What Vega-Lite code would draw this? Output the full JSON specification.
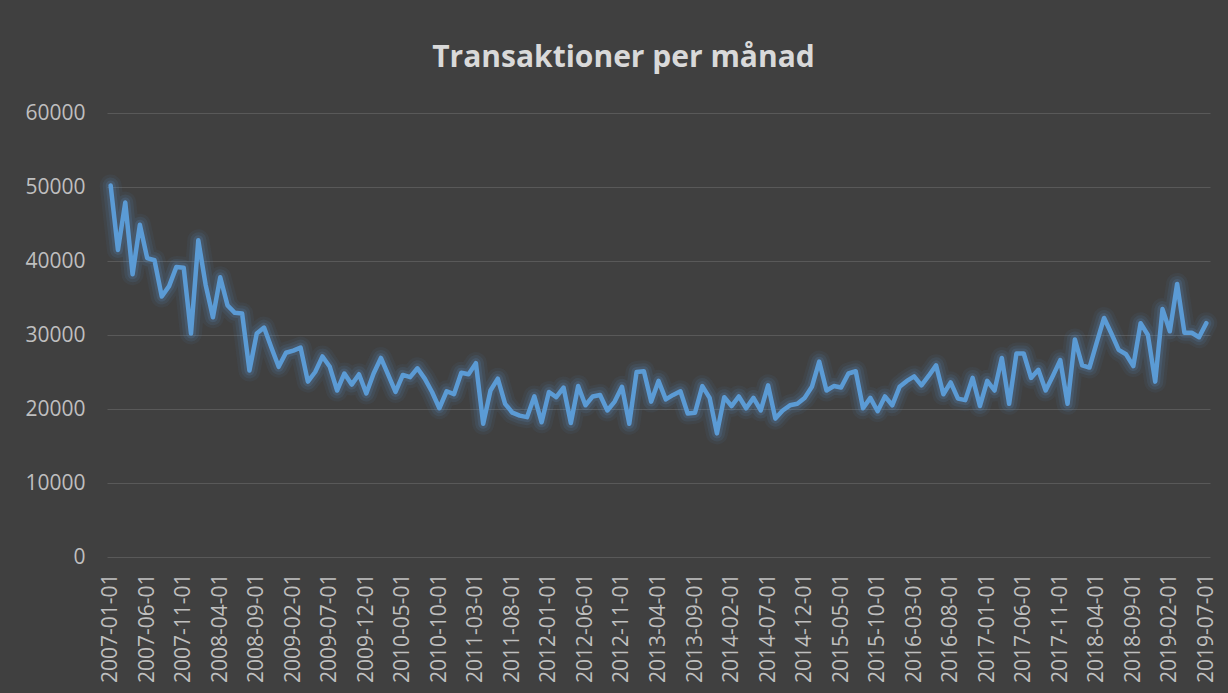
{
"$schema": "https://vega.github.io/schema/vega-lite/v6.json",
"width": 1103,
"height": 444,
"autosize": {"type": "none"},
"padding": {"left": 107, "top": 113, "right": 18, "bottom": 136},
"background": "#404040",
"config": {"view": {"stroke": null}, "font": "Open Sans"},
"title": {"text": "Transaktioner per månad", "color": "#d9d9d9", "fontSize": 30, "font": "Open Sans", "fontWeight": "bold", "anchor": "middle", "dx": -35, "offset": 29},
"data": {"values": [
{"month":"2007-01-01","n":50200},{"month":"2007-02-01","n":41500},{"month":"2007-03-01","n":47900},{"month":"2007-04-01","n":38200},{"month":"2007-05-01","n":44900},{"month":"2007-06-01","n":40400},{"month":"2007-07-01","n":40100},{"month":"2007-08-01","n":35200},{"month":"2007-09-01","n":36600},{"month":"2007-10-01","n":39200},{"month":"2007-11-01","n":39100},{"month":"2007-12-01","n":30200},
{"month":"2008-01-01","n":42800},{"month":"2008-02-01","n":36800},{"month":"2008-03-01","n":32400},{"month":"2008-04-01","n":37800},{"month":"2008-05-01","n":34000},{"month":"2008-06-01","n":33000},{"month":"2008-07-01","n":32900},{"month":"2008-08-01","n":25200},{"month":"2008-09-01","n":30200},{"month":"2008-10-01","n":31000},{"month":"2008-11-01","n":28300},{"month":"2008-12-01","n":25700},
{"month":"2009-01-01","n":27600},{"month":"2009-02-01","n":27900},{"month":"2009-03-01","n":28300},{"month":"2009-04-01","n":23700},{"month":"2009-05-01","n":25000},{"month":"2009-06-01","n":27100},{"month":"2009-07-01","n":25700},{"month":"2009-08-01","n":22500},{"month":"2009-09-01","n":24800},{"month":"2009-10-01","n":23300},{"month":"2009-11-01","n":24700},{"month":"2009-12-01","n":22100},
{"month":"2010-01-01","n":24800},{"month":"2010-02-01","n":26900},{"month":"2010-03-01","n":24600},{"month":"2010-04-01","n":22300},{"month":"2010-05-01","n":24600},{"month":"2010-06-01","n":24300},{"month":"2010-07-01","n":25500},{"month":"2010-08-01","n":24100},{"month":"2010-09-01","n":22300},{"month":"2010-10-01","n":20100},{"month":"2010-11-01","n":22400},{"month":"2010-12-01","n":22000},
{"month":"2011-01-01","n":24900},{"month":"2011-02-01","n":24700},{"month":"2011-03-01","n":26200},{"month":"2011-04-01","n":18000},{"month":"2011-05-01","n":22500},{"month":"2011-06-01","n":24100},{"month":"2011-07-01","n":20700},{"month":"2011-08-01","n":19500},{"month":"2011-09-01","n":19100},{"month":"2011-10-01","n":18900},{"month":"2011-11-01","n":21700},{"month":"2011-12-01","n":18200},
{"month":"2012-01-01","n":22300},{"month":"2012-02-01","n":21600},{"month":"2012-03-01","n":22900},{"month":"2012-04-01","n":18100},{"month":"2012-05-01","n":23100},{"month":"2012-06-01","n":20500},{"month":"2012-07-01","n":21700},{"month":"2012-08-01","n":21900},{"month":"2012-09-01","n":19800},{"month":"2012-10-01","n":21000},{"month":"2012-11-01","n":23000},{"month":"2012-12-01","n":18000},
{"month":"2013-01-01","n":25000},{"month":"2013-02-01","n":25100},{"month":"2013-03-01","n":21000},{"month":"2013-04-01","n":23800},{"month":"2013-05-01","n":21300},{"month":"2013-06-01","n":21900},{"month":"2013-07-01","n":22400},{"month":"2013-08-01","n":19400},{"month":"2013-09-01","n":19500},{"month":"2013-10-01","n":23100},{"month":"2013-11-01","n":21500},{"month":"2013-12-01","n":16700},
{"month":"2014-01-01","n":21600},{"month":"2014-02-01","n":20400},{"month":"2014-03-01","n":21700},{"month":"2014-04-01","n":20100},{"month":"2014-05-01","n":21500},{"month":"2014-06-01","n":19800},{"month":"2014-07-01","n":23200},{"month":"2014-08-01","n":18700},{"month":"2014-09-01","n":19800},{"month":"2014-10-01","n":20500},{"month":"2014-11-01","n":20700},{"month":"2014-12-01","n":21500},
{"month":"2015-01-01","n":23000},{"month":"2015-02-01","n":26400},{"month":"2015-03-01","n":22500},{"month":"2015-04-01","n":23100},{"month":"2015-05-01","n":22900},{"month":"2015-06-01","n":24800},{"month":"2015-07-01","n":25100},{"month":"2015-08-01","n":20100},{"month":"2015-09-01","n":21500},{"month":"2015-10-01","n":19700},{"month":"2015-11-01","n":21700},{"month":"2015-12-01","n":20500},
{"month":"2016-01-01","n":23000},{"month":"2016-02-01","n":23800},{"month":"2016-03-01","n":24400},{"month":"2016-04-01","n":23200},{"month":"2016-05-01","n":24500},{"month":"2016-06-01","n":25900},{"month":"2016-07-01","n":22000},{"month":"2016-08-01","n":23600},{"month":"2016-09-01","n":21400},{"month":"2016-10-01","n":21200},{"month":"2016-11-01","n":24200},{"month":"2016-12-01","n":20400},
{"month":"2017-01-01","n":23800},{"month":"2017-02-01","n":22500},{"month":"2017-03-01","n":26900},{"month":"2017-04-01","n":20700},{"month":"2017-05-01","n":27500},{"month":"2017-06-01","n":27500},{"month":"2017-07-01","n":24200},{"month":"2017-08-01","n":25300},{"month":"2017-09-01","n":22500},{"month":"2017-10-01","n":24500},{"month":"2017-11-01","n":26600},{"month":"2017-12-01","n":20700},
{"month":"2018-01-01","n":29400},{"month":"2018-02-01","n":25900},{"month":"2018-03-01","n":25600},{"month":"2018-04-01","n":29000},{"month":"2018-05-01","n":32300},{"month":"2018-06-01","n":30200},{"month":"2018-07-01","n":28000},{"month":"2018-08-01","n":27400},{"month":"2018-09-01","n":25800},{"month":"2018-10-01","n":31600},{"month":"2018-11-01","n":30000},{"month":"2018-12-01","n":23700},
{"month":"2019-01-01","n":33500},{"month":"2019-02-01","n":30500},{"month":"2019-03-01","n":36900},{"month":"2019-04-01","n":30300},{"month":"2019-05-01","n":30300},{"month":"2019-06-01","n":29700},{"month":"2019-07-01","n":31600}
]},
"encoding": {
  "x": {"field": "month", "type": "ordinal", "sort": null, "scale": {"type": "point", "padding": 0.5},
    "axis": {"title": null, "labelAngle": -90, "labelAlign": "right", "labelBaseline": "middle", "labelPadding": 16, "ticks": false, "domain": false, "grid": false, "labelFontSize": 21, "labelColor": "#bfbfbf", "labelFont": "Open Sans", "labelOverlap": false,
      "values": ["2007-01-01","2007-06-01","2007-11-01","2008-04-01","2008-09-01","2009-02-01","2009-07-01","2009-12-01","2010-05-01","2010-10-01","2011-03-01","2011-08-01","2012-01-01","2012-06-01","2012-11-01","2013-04-01","2013-09-01","2014-02-01","2014-07-01","2014-12-01","2015-05-01","2015-10-01","2016-03-01","2016-08-01","2017-01-01","2017-06-01","2017-11-01","2018-04-01","2018-09-01","2019-02-01","2019-07-01"]}},
  "y": {"field": "n", "type": "quantitative", "scale": {"domain": [0, 60000], "nice": false},
    "axis": {"title": null, "values": [0,10000,20000,30000,40000,50000,60000], "format": "d", "grid": true, "gridColor": "#595959", "gridWidth": 1, "domain": false, "ticks": false, "labelPadding": 22, "labelFontSize": 21, "labelColor": "#bfbfbf", "labelFont": "Open Sans"}}
},
"layer": [
  {"mark": {"type": "line", "color": "#5b9bd5", "strokeWidth": 22, "opacity": 0.06, "strokeJoin": "round", "strokeCap": "round"}},
  {"mark": {"type": "line", "color": "#5b9bd5", "strokeWidth": 16, "opacity": 0.1, "strokeJoin": "round", "strokeCap": "round"}},
  {"mark": {"type": "line", "color": "#5b9bd5", "strokeWidth": 10, "opacity": 0.15, "strokeJoin": "round", "strokeCap": "round"}},
  {"mark": {"type": "line", "color": "#5b9bd5", "strokeWidth": 4.5, "strokeJoin": "round", "strokeCap": "round"}}
]
}
